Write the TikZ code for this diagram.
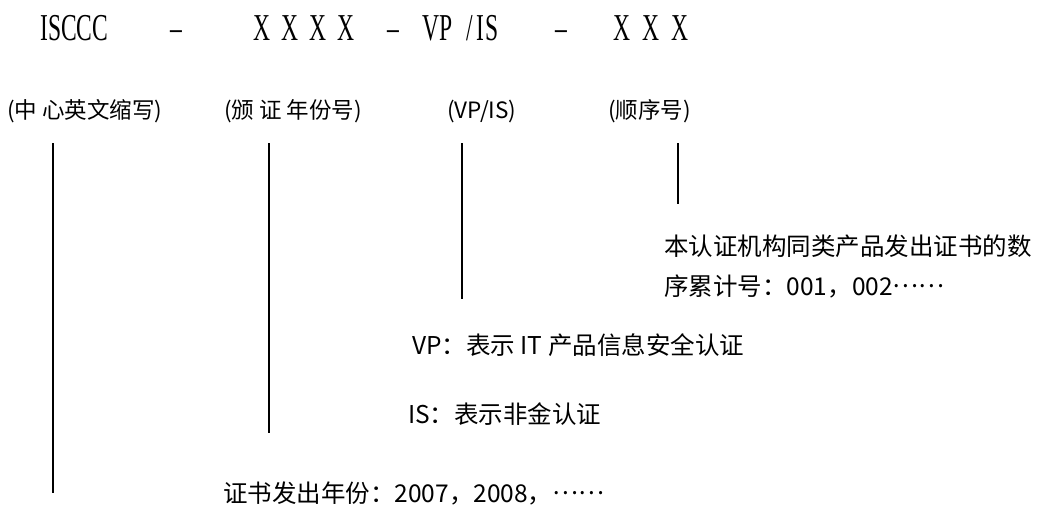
\documentclass[tikz,border=0pt]{standalone}
\usepackage{fontspec}
\setmainfont{Noto Sans CJK SC}
\newfontfamily\narrowserif[FakeStretch=0.62]{Liberation Serif}
\begin{document}
\begin{tikzpicture}[x=1pt, y=-1pt,
        code/.style={anchor=base west, inner sep=0pt, font=\narrowserif\fontsize{38}{40}\selectfont},
        part/.style={anchor=base west, inner sep=0pt, font=\fontsize{22.5}{26}\selectfont},
        note/.style={anchor=base west, inner sep=0pt, font=\fontsize{24.5}{28}\selectfont},
        leader/.style={line width=2pt}]
                \useasboundingbox (0,0) rectangle (1044,507);

                \node[code] (center) at (40,40) {ISCCC};
                \node[code] (dashA) at (170,40) {\textendash};
                \node[code] (year) at (253,40) {X\kern11pt X\kern11pt X\kern11pt X};
                \node[code] (dashB) at (387,40) {\textendash};
                \node[code] (type) at (422,40) {VP\kern14pt/\kern4pt I\kern1pt S};
                \node[code] (dashC) at (555,40) {\textendash};
                \node[code] (serial) at (613,40) {X\kern12pt X\kern12pt X};

                \node[part] (centerpart) at (7,118) {(中 心英文缩写)};
                \node[part] (yearpart) at (224,118) {(颁 证 年份号)};
                \node[part] (typepart) at (447,118) {(VP/IS)};
                \node[part] (serialpart) at (608,118) {(顺序号)};

                \coordinate (centertop) at (53,143);
                \coordinate (centerend) at (53,493);
                \coordinate (yeartop) at (269,143);
                \coordinate (yearend) at (269,433);
                \coordinate (typetop) at (462,143);
                \coordinate (typeend) at (462,299);
                \coordinate (serialtop) at (678,143);
                \coordinate (serialend) at (678,204);

                \draw[leader] (centertop) -- (centerend);
                \draw[leader] (yeartop) -- (yearend);
                \draw[leader] (typetop) -- (typeend);
                \draw[leader] (serialtop) -- (serialend);

                \node[note] (serialnote) at (664,255) {本认证机构同类产品发出证书的数};
                \node[note] (serialnotemore) at (664,295) {序累计号：001，002\raisebox{0.32em}{……}};
                \node[note] (vpnote) at (412,354) {VP：表示 IT 产品信息安全认证};
                \node[note] (isnote) at (408,423) {IS：表示非金认证};
                \node[note] (yearnote) at (223,502) {证书发出年份：2007，2008，\raisebox{0.32em}{……}};
            \end{tikzpicture}
\end{document}
